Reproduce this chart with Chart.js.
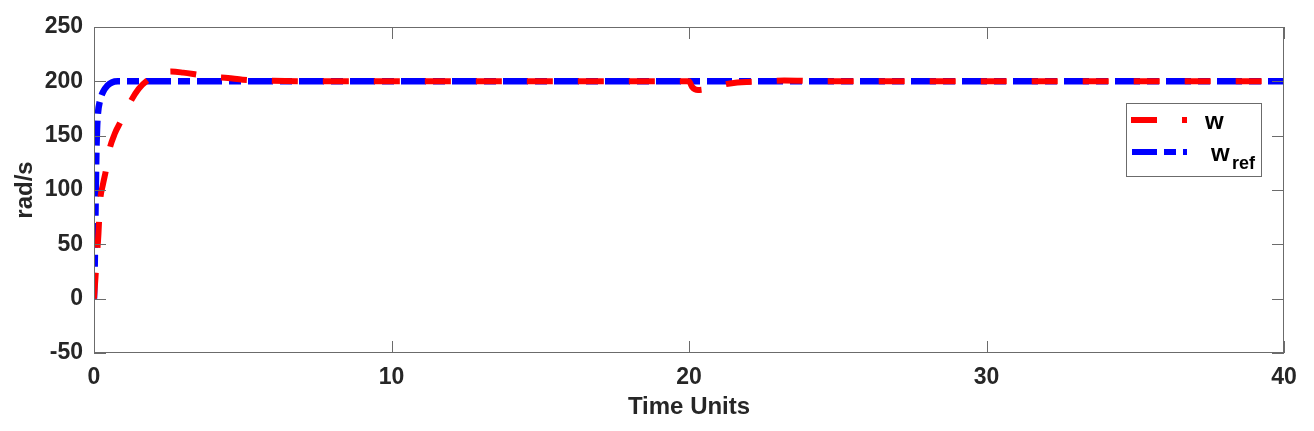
<!DOCTYPE html>
<html>
<head>
<meta charset="utf-8">
<script src="https://cdn.jsdelivr.net/npm/chart.js@4/dist/chart.umd.min.js"></script>
<style>
  body { margin: 0; background: #fff; }
</style>
</head>
<body>
<canvas id="speedChart" width="1314" height="431"></canvas>
<script>
// 时间轴刻度
var xTicks = [0, 10, 20, 30, 40];
var yTicks = [-50, 0, 50, 100, 150, 200, 250];

// w (实际转速)
var wTime  = [0, 0.05, 0.1, 0.15, 0.2, 0.3, 0.4, 0.5, 0.7, 0.9, 1.2, 1.5, 1.8, 2.2, 2.6, 3.0, 3.5, 4.0, 4.5, 5.0, 6.0, 8.0, 20.0, 20.1, 20.3, 20.6, 21.0, 21.5, 22.5, 23.2, 24.5, 40];
var wValue = [0, 20, 40, 60, 88, 105, 118, 135, 152, 163, 180, 193, 201, 207, 209, 208, 206, 204, 203, 201.5, 200.5, 200, 200, 195, 192, 193, 196, 198.5, 200, 200.8, 200, 200];

// w_ref (参考转速)
var refTime  = [0, 0.02, 0.04, 0.06, 0.08, 0.1, 0.13, 0.2, 0.3, 0.45, 0.6, 0.8, 40];
var refValue = [0, 25, 60, 100, 135, 155, 170, 182, 190, 196, 199, 200, 200];

function toPoints(xs, ys) {
    return xs.map(function (x, i) { return { x: x, y: ys[i] }; });
}

var textColor = '#262626';
var boxColor = '#6b6b6b';
var fontFamily = '"Liberation Sans", Arial, sans-serif';

// 边框 + 向内刻度 + 图例
var boxPlugin = {
    id: 'boxPlugin',
    afterDraw: function (chart) {
        var ctx = chart.ctx;
        var a = chart.chartArea;
        var xs = chart.scales.x, ys = chart.scales.y;
        ctx.save();
        ctx.strokeStyle = boxColor;
        ctx.lineWidth = 1;
        ctx.strokeRect(a.left + 0.5, a.top + 0.5, a.right - a.left - 1, a.bottom - a.top - 1);
        ctx.beginPath();
        xTicks.forEach(function (v) {
            var px = Math.round(xs.getPixelForValue(v)) + 0.5;
            ctx.moveTo(px, a.bottom); ctx.lineTo(px, a.bottom - 12);
            ctx.moveTo(px, a.top); ctx.lineTo(px, a.top + 12);
        });
        yTicks.forEach(function (v) {
            var py = Math.round(ys.getPixelForValue(v)) + 0.5;
            ctx.moveTo(a.left, py); ctx.lineTo(a.left + 12, py);
            ctx.moveTo(a.right, py); ctx.lineTo(a.right - 12, py);
        });
        ctx.stroke();

        // 图例
        var lx = a.right - 158, ly = a.top + 76;
        ctx.fillStyle = '#fff';
        ctx.fillRect(lx, ly, 136, 74);
        ctx.strokeStyle = boxColor;
        ctx.strokeRect(lx + 0.5, ly + 0.5, 135, 73);
        ctx.lineWidth = 6;
        ctx.lineCap = 'butt';
        ctx.strokeStyle = 'rgb(255,0,0)';
        ctx.setLineDash([26, 25]);
        ctx.beginPath(); ctx.moveTo(lx + 5, ly + 17); ctx.lineTo(lx + 61, ly + 17); ctx.stroke();
        ctx.strokeStyle = 'rgb(0,0,255)';
        ctx.setLineDash([25, 7, 12, 7]);
        ctx.beginPath(); ctx.moveTo(lx + 6, ly + 49); ctx.lineTo(lx + 61, ly + 49); ctx.stroke();
        ctx.setLineDash([]);
        ctx.fillStyle = '#000';
        ctx.font = 'bold 24px ' + fontFamily;
        ctx.textBaseline = 'alphabetic';
        ctx.fillText('w', lx + 79, ly + 26);
        ctx.fillText('w', lx + 85, ly + 58);
        ctx.font = 'bold 18px ' + fontFamily;
        ctx.fillText('ref', lx + 106, ly + 66);
        ctx.restore();
    }
};

new Chart(document.getElementById('speedChart').getContext('2d'), {
    type: 'line',
    data: {
        datasets: [{
            label: 'w',
            data: toPoints(wTime, wValue),
            borderColor: 'rgb(255, 0, 0)',
            borderWidth: 6,
            borderDash: [26, 25],
            pointRadius: 0,
            cubicInterpolationMode: 'monotone',
            fill: false
        }, {
            label: 'w_ref',
            data: toPoints(refTime, refValue),
            borderColor: 'rgb(0, 0, 255)',
            borderWidth: 6.5,
            borderDash: [25, 7, 12, 7],
            pointRadius: 0,
            cubicInterpolationMode: 'monotone',
            fill: false
        }]
    },
    options: {
        responsive: false,
        animation: false,
        layout: { padding: { top: 27, right: 30, left: 0, bottom: 0 } },
        plugins: {
            legend: { display: false },
            tooltip: { enabled: false }
        },
        scales: {
            x: {
                type: 'linear',
                min: 0,
                max: 40,
                afterBuildTicks: function (s) { s.ticks = xTicks.map(function (v) { return { value: v }; }); },
                afterFit: function (s) { s.height = 78; },
                grid: { display: false, drawTicks: false },
                border: { display: false },
                ticks: {
                    color: textColor,
                    padding: 11,
                    maxRotation: 0,
                    font: { family: fontFamily, size: 23, weight: 'bold' }
                },
                title: {
                    display: true,
                    text: 'Time Units',
                    color: textColor,
                    padding: { top: 0, bottom: 9 },
                    font: { family: fontFamily, size: 24, weight: 'bold' }
                }
            },
            y: {
                min: -50,
                max: 250,
                afterBuildTicks: function (s) { s.ticks = yTicks.map(function (v) { return { value: v }; }); },
                afterFit: function (s) { s.width = 94; },
                grid: { display: false, drawTicks: false },
                border: { display: false },
                ticks: {
                    color: textColor,
                    padding: 11,
                    font: { family: fontFamily, size: 23, weight: 'bold' }
                },
                title: {
                    display: true,
                    text: 'rad/s',
                    color: textColor,
                    padding: { top: 11, bottom: 0 },
                    font: { family: fontFamily, size: 24, weight: 'bold' }
                }
            }
        }
    },
    plugins: [boxPlugin]
});
</script>
</body>
</html>
